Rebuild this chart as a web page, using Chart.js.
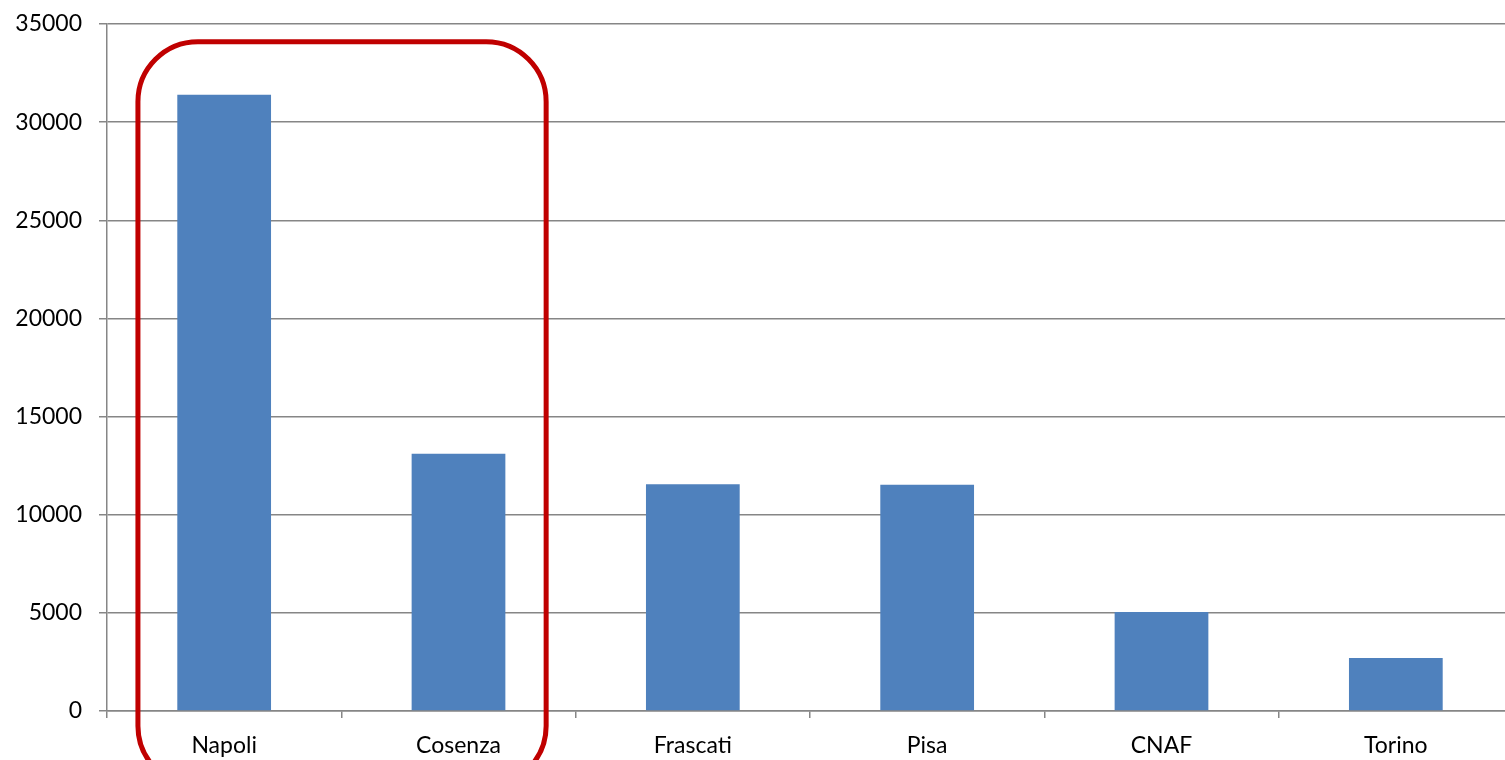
<!DOCTYPE html>
<html>
<head>
<meta charset="utf-8">
<script src="https://cdn.jsdelivr.net/npm/chart.js@4/dist/chart.umd.min.js"></script>
<style>
  html, body { margin: 0; padding: 0; background: #fff; overflow: hidden; }
  #wrap { position: relative; width: 1513px; height: 760px; }
</style>
</head>
<body>
<div id="wrap"><canvas id="c"></canvas></div>
<script>
// ---- data ----
const categories = ['Napoli', 'Cosenza', 'Frascati', 'Pisa', 'CNAF', 'Torino'];
const values = [31400, 13100, 11550, 11530, 5050, 2700];
const yTicks = [0, 5000, 10000, 15000, 20000, 25000, 30000, 35000];
const highlighted = ['Napoli', 'Cosenza'];
const highlightTop = 34100;

const FONT = 'Lato, "Open Sans", sans-serif';

const highlightPlugin = {
  id: 'highlight',
  afterDatasetsDraw(chart) {
    const xs = chart.scales.x, ys = chart.scales.y;
    const i0 = categories.indexOf(highlighted[0]);
    const i1 = categories.indexOf(highlighted[highlighted.length - 1]);
    const cw = (xs.right - xs.left) / categories.length;
    const left = xs.getPixelForValue(i0) - cw * 0.368;
    const right = xs.getPixelForValue(i1) + cw * 0.374;
    const top = ys.getPixelForValue(highlightTop);
    const bottom = chart.chartArea.bottom + 75;
    const r = 60;
    const ctx = chart.ctx;
    ctx.save();
    ctx.strokeStyle = '#c00000';
    ctx.lineWidth = 5;
    ctx.beginPath();
    ctx.roundRect(left, top, right - left, bottom - top, r);
    ctx.stroke();
    ctx.restore();
  }
};

new Chart(document.getElementById('c'), {
  type: 'bar',
  data: {
    labels: categories,
    datasets: [{
      data: values,
      backgroundColor: '#4f81bd',
      borderWidth: 0,
      barPercentage: 1,
      categoryPercentage: 0.4
    }]
  },
  options: {
    responsive: true,
    maintainAspectRatio: false,
    animation: false,
    layout: { padding: { top: 24, right: 0, left: 0, bottom: 0 } },
    plugins: { legend: { display: false }, tooltip: { enabled: false } },
    scales: {
      x: {
        offset: true,
        grid: {
          display: true,
          offset: true,
          drawOnChartArea: false,
          drawTicks: true,
          tickLength: 7,
          color: '#868686',
          lineWidth: 1.5
        },
        border: { display: true, color: '#868686', width: 1.5 },
        ticks: {
          color: '#000',
          font: { family: FONT, size: 23 },
          padding: 14,
          maxRotation: 0,
          autoSkip: false
        },
        afterFit(scale) { scale.height = 49; scale.paddingLeft = 0; scale.paddingRight = 0; }
      },
      y: {
        min: 0,
        max: 35000,
        afterBuildTicks(scale) { scale.ticks = yTicks.map(v => ({ value: v })); },
        grid: {
          color: '#868686',
          lineWidth: 1.5,
          drawTicks: true,
          tickLength: 8
        },
        border: { display: true, color: '#868686', width: 1.5 },
        ticks: {
          color: '#000',
          font: { family: FONT, size: 23 },
          padding: 17,
          callback: v => String(v)
        },
        afterFit(scale) { scale.width = 107; scale.paddingTop = 0; scale.paddingBottom = 0; }
      }
    }
  },
  plugins: [highlightPlugin]
});
</script>
</body>
</html>
